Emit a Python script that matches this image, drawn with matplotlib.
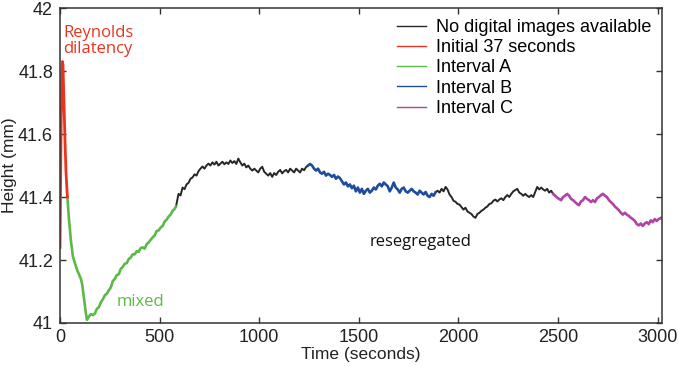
import matplotlib
matplotlib.use("Agg")
import matplotlib.pyplot as plt
from matplotlib.lines import Line2D

plt.rcParams['font.family'] = ['Liberation Sans', 'DejaVu Sans']

# ---- data (time in s, height in mm) ----
red_t = [0, 3, 6, 9, 12, 15, 20, 25, 30, 37]
red_h = [41.24, 41.45, 41.65, 41.78, 41.83, 41.82, 41.70, 41.58, 41.48, 41.40]

green_t = [37, 45, 55, 65, 75, 85, 95, 105, 112, 120, 128, 135, 145, 155, 165, 175,
           185, 195, 205, 215, 225, 235, 245, 255, 265, 275, 285, 295, 305, 315, 325,
           335, 345, 355, 365, 375, 385, 395, 405, 415, 425, 435, 445, 455, 465, 475,
           485, 495, 505, 515, 525, 535, 545, 555, 565, 575, 582]
green_h = [41.40, 41.33, 41.26, 41.21, 41.19, 41.17, 41.155, 41.14, 41.12, 41.08, 41.04,
           41.01, 41.02, 41.028, 41.025, 41.03, 41.045, 41.05, 41.066, 41.075, 41.088,
           41.093, 41.104, 41.113, 41.133, 41.14, 41.152, 41.155, 41.172, 41.178, 41.188,
           41.19, 41.203, 41.208, 41.218, 41.218, 41.228, 41.226, 41.238, 41.24, 41.236,
           41.25, 41.256, 41.264, 41.272, 41.278, 41.292, 41.294, 41.303, 41.308, 41.322,
           41.328, 41.338, 41.344, 41.356, 41.362, 41.37]

black1_t = [582, 595, 605, 615, 625, 635, 645, 655, 665, 675, 685, 695, 705, 715, 725,
            735, 745, 755, 765, 775, 785, 795, 805, 815, 825, 835, 845, 855, 865, 875,
            885, 895, 905, 915, 925, 935, 945, 955, 965, 975, 985, 995, 1005, 1015, 1025,
            1035, 1045, 1055, 1065, 1075, 1085, 1095, 1105, 1115, 1125, 1135, 1145, 1155,
            1165, 1175, 1185, 1195, 1205, 1215, 1225, 1235, 1245]
black1_h = [41.37, 41.41, 41.405, 41.43, 41.425, 41.44, 41.445, 41.458, 41.462, 41.472,
            41.468, 41.482, 41.49, 41.497, 41.49, 41.50, 41.506, 41.50, 41.51, 41.503,
            41.512, 41.50, 41.506, 41.512, 41.504, 41.51, 41.505, 41.516, 41.508, 41.514,
            41.505, 41.522, 41.51, 41.50, 41.506, 41.494, 41.50, 41.49, 41.484, 41.49,
            41.484, 41.478, 41.49, 41.496, 41.48, 41.474, 41.468, 41.476, 41.464, 41.476,
            41.47, 41.48, 41.486, 41.475, 41.482, 41.486, 41.478, 41.49, 41.484, 41.478,
            41.49, 41.484, 41.478, 41.49, 41.485, 41.495, 41.50]

blue_t = [1245, 1255, 1265, 1275, 1285, 1295, 1305, 1315, 1325, 1335, 1345, 1355, 1365,
          1375, 1385, 1395, 1405, 1415, 1425, 1435, 1445, 1455, 1465, 1475, 1485, 1495,
          1505, 1515, 1525, 1535, 1545, 1555, 1565, 1575, 1585, 1595, 1605, 1615, 1625,
          1635, 1645, 1655, 1665, 1675, 1685, 1695, 1705, 1715, 1725, 1735, 1745, 1755,
          1765, 1775, 1785, 1795, 1805, 1815, 1825, 1835, 1845, 1855, 1865, 1875, 1885]
blue_h = [41.50, 41.505, 41.50, 41.49, 41.484, 41.49, 41.478, 41.474, 41.48, 41.468,
          41.474, 41.47, 41.464, 41.47, 41.458, 41.465, 41.46, 41.45, 41.44, 41.446,
          41.434, 41.44, 41.428, 41.436, 41.418, 41.43, 41.414, 41.426, 41.41, 41.42,
          41.426, 41.414, 41.42, 41.43, 41.424, 41.436, 41.442, 41.434, 41.446, 41.44,
          41.434, 41.418, 41.43, 41.446, 41.43, 41.424, 41.414, 41.426, 41.43, 41.418,
          41.414, 41.42, 41.426, 41.418, 41.414, 41.408, 41.42, 41.414, 41.408, 41.416,
          41.404, 41.40, 41.41, 41.404, 41.415]

black2_t = [1885, 1895, 1905, 1915, 1925, 1935, 1945, 1955, 1965, 1975, 1985, 1995, 2005,
            2015, 2025, 2035, 2045, 2055, 2065, 2075, 2085, 2095, 2105, 2115, 2125, 2135,
            2145, 2155, 2165, 2175, 2185, 2195, 2205, 2215, 2225, 2235, 2245, 2255, 2265,
            2275, 2285, 2295, 2305, 2315, 2325, 2335, 2345, 2355, 2365, 2375, 2385, 2395,
            2405, 2415, 2425, 2435, 2445, 2455, 2465, 2475]
black2_h = [41.415, 41.42, 41.414, 41.426, 41.418, 41.432, 41.424, 41.408, 41.40, 41.388,
            41.385, 41.378, 41.376, 41.368, 41.36, 41.366, 41.354, 41.35, 41.346, 41.338,
            41.334, 41.346, 41.35, 41.356, 41.36, 41.366, 41.37, 41.378, 41.38, 41.388,
            41.392, 41.386, 41.392, 41.396, 41.39, 41.40, 41.406, 41.40, 41.41, 41.418,
            41.422, 41.426, 41.414, 41.41, 41.404, 41.41, 41.404, 41.40, 41.406, 41.40,
            41.416, 41.432, 41.424, 41.43, 41.424, 41.42, 41.426, 41.414, 41.42, 41.41]

purple_t = [2475, 2485, 2495, 2505, 2515, 2525, 2535, 2545, 2555, 2565, 2575, 2585, 2595,
            2605, 2615, 2625, 2635, 2645, 2655, 2665, 2675, 2685, 2695, 2705, 2715, 2725,
            2735, 2745, 2755, 2765, 2775, 2785, 2795, 2805, 2815, 2825, 2835, 2845, 2855,
            2865, 2875, 2885, 2895, 2905, 2915, 2925, 2935, 2945, 2955, 2965, 2975, 2985,
            2995, 3005, 3018]
purple_h = [41.41, 41.404, 41.398, 41.394, 41.39, 41.40, 41.404, 41.41, 41.404, 41.394,
            41.39, 41.384, 41.378, 41.374, 41.386, 41.39, 41.40, 41.394, 41.39, 41.384,
            41.39, 41.384, 41.396, 41.40, 41.406, 41.41, 41.404, 41.40, 41.39, 41.384,
            41.378, 41.37, 41.364, 41.358, 41.35, 41.344, 41.35, 41.344, 41.34, 41.334,
            41.33, 41.324, 41.314, 41.31, 41.316, 41.308, 41.316, 41.32, 41.314, 41.326,
            41.32, 41.33, 41.324, 41.33, 41.334]

legend_labels = ["No digital images available", "Initial 37 seconds",
                 "Interval A", "Interval B", "Interval C"]

c_black = "#262626"
c_red = "#e8341f"
c_green = "#5cb947"
c_blue = "#1f4c9e"
c_purple = "#b043a8"

fig = plt.figure(figsize=(6.78, 3.66), dpi=100)
ax = fig.add_axes([0.0885, 0.1175, 0.8875, 0.8605])

ax.plot(black1_t, black1_h, color=c_black, lw=1.4)
ax.plot(black2_t, black2_h, color=c_black, lw=1.4)
ax.plot(green_t, green_h, color=c_green, lw=1.9)
ax.plot(blue_t, blue_h, color=c_blue, lw=1.9)
ax.plot(purple_t, purple_h, color=c_purple, lw=1.9)
ax.plot(red_t, red_h, color=c_red, lw=2.0)

ax.set_xlim(0, 3020)
ax.set_ylim(41, 42)
ax.set_xticks([0, 500, 1000, 1500, 2000, 2500, 3000])
ax.set_yticks([41, 41.2, 41.4, 41.6, 41.8, 42])
ax.set_yticklabels(["41", "41.2", "41.4", "41.6", "41.8", "42"])
ax.tick_params(direction='in', top=True, right=True, labelsize=13, length=4,
               width=1, colors="#333333", labelcolor="#222222")
ax.tick_params(axis='x', pad=4)
ax.tick_params(axis='y', pad=5)
for s in ax.spines.values():
    s.set_linewidth(1.1)
    s.set_color("#333333")

ax.set_xlabel("Time (seconds)", fontsize=12.5, color="#222222", labelpad=1)
ax.set_ylabel("Height (mm)", fontsize=12.5, color="#222222", labelpad=1)

handles = [Line2D([], [], color=c, lw=1.0) for c in [c_black, c_red, c_green, c_blue, c_purple]]
ax.legend(handles, legend_labels, loc="upper right", frameon=False, fontsize=13,
          handlelength=1.6, handletextpad=0.55, labelspacing=0.18,
          borderaxespad=0.2, bbox_to_anchor=(1.0, 1.0))

ann_font = ['Open Sans', 'DejaVu Sans']
ax.text(18, 41.895, "Reynolds\ndilatency", color=c_red, fontsize=12, va="center",
        ha="left", linespacing=1.05, family=ann_font)
ax.text(283, 41.068, "mixed", color=c_green, fontsize=12, va="center", ha="left",
        family=ann_font)
ax.text(1811, 41.257, "resegregated", color="#111111", fontsize=12, va="center",
        ha="center", family=ann_font)

fig.savefig("out.png", dpi=100)
